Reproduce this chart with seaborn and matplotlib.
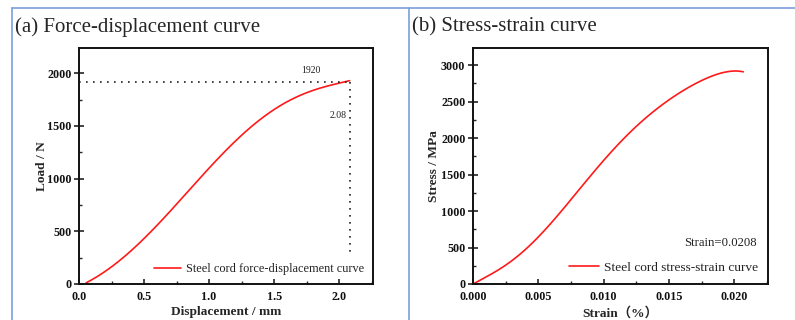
import numpy as np
import pandas as pd
import matplotlib
matplotlib.use("Agg")
import matplotlib.pyplot as plt
import seaborn as sns
from matplotlib.lines import Line2D
from matplotlib.ticker import MultipleLocator, FormatStrFormatter

# ---- data ----
disp_mm = [0.05, 0.23, 0.43, 0.585, 0.74, 0.867, 0.995, 1.12, 1.25, 1.38, 1.51, 1.64, 1.76, 1.89, 2.0, 2.08]
load_n = [0, 164, 354, 512, 733, 923, 1113, 1271, 1414, 1540, 1651, 1746, 1824, 1888, 1912, 1920]
strain = [0.0, 0.00232, 0.00488, 0.0064, 0.00794, 0.00998, 0.01126, 0.01253, 0.0138, 0.01508,
          0.01636, 0.01763, 0.0189, 0.01993, 0.0204, 0.0207]
stress_mpa = [0, 229, 641, 916, 1237, 1694, 1946, 2175, 2358, 2521, 2681, 2805, 2887, 2918, 2915, 2910]
peak_disp = 2.08
peak_load = 1920
strain_note = "Strain=0.0208"

sns.set_theme(style="ticks")
plt.rcParams["font.family"] = ["Liberation Serif", "Noto Sans CJK SC", "DejaVu Sans"]

fig = plt.figure(figsize=(7.95, 3.2), dpi=100)
fig.patch.set_facecolor("white")

ax1 = fig.add_axes([0.0994, 0.1125, 0.3698, 0.7375])
ax2 = fig.add_axes([0.595, 0.1125, 0.371, 0.7375])


def smooth(x, y, deg, n=300):
    """Least-squares polynomial smoothing of the read points (for a clean line)."""
    x = np.asarray(x, float)
    y = np.asarray(y, float)
    sx = (x - x.min()) / (x.max() - x.min())
    coef = np.polyfit(sx, y, deg)
    xs = np.linspace(0, 1, n)
    ys = np.polyval(coef, xs)
    ys[0] = y[0]
    return pd.DataFrame({"x": x.min() + xs * (x.max() - x.min()), "y": ys})


s1 = smooth(disp_mm, load_n, 5)
s2 = smooth(strain, stress_mpa, 6)

red = "#ff1a1a"
sns.lineplot(data=s1, x="x", y="y", ax=ax1, color=red, linewidth=1.2,
             label="Steel cord force-displacement curve", sort=False)
sns.lineplot(data=s2, x="x", y="y", ax=ax2, color=red, linewidth=1.2,
             label="Steel cord stress-strain curve", sort=False)

# dotted guide lines
dot = (0, (1, 3.2))
ax1.plot([0, peak_disp], [peak_load, peak_load], linestyle=dot, color="#222222", linewidth=1.2)
ax1.plot([peak_disp, peak_disp], [peak_load, 275], linestyle=dot, color="#222222", linewidth=1.2)
ax1.text(1.78, 1985, str(peak_load), fontsize=7, ha="center", va="bottom", color="#222222")
ax1.text(2.06, 1600, f"{peak_disp:.2f}", fontsize=7, ha="right", va="center", color="#222222")

ax2.text(0.963, 0.175, strain_note, transform=ax2.transAxes, fontsize=9.2, ha="right", va="center",
         color="#222222")

ax1.set_xlim(0, 2.26)
ax1.set_ylim(0, 2240)
ax2.set_xlim(0, 0.02259)
ax2.set_ylim(0, 3235)

ax1.xaxis.set_major_locator(MultipleLocator(0.5))
ax1.xaxis.set_minor_locator(MultipleLocator(0.25))
ax1.yaxis.set_major_locator(MultipleLocator(500))
ax1.yaxis.set_minor_locator(MultipleLocator(250))
ax2.xaxis.set_major_locator(MultipleLocator(0.005))
ax2.xaxis.set_minor_locator(MultipleLocator(0.0025))
ax2.yaxis.set_major_locator(MultipleLocator(500))
ax2.yaxis.set_minor_locator(MultipleLocator(250))

ax1.xaxis.set_major_formatter(FormatStrFormatter("%.1f"))
ax2.xaxis.set_major_formatter(FormatStrFormatter("%.3f"))

legend_sizes = {ax1: 8.8, ax2: 9.6}
for ax in (ax1, ax2):
    for sp in ax.spines.values():
        sp.set_visible(True)
        sp.set_linewidth(1.4)
        sp.set_color("#111111")
    ax.tick_params(axis="x", which="major", direction="in", length=3.5, width=1.1,
                   labelsize=8.7, pad=5, colors="#111111")
    ax.tick_params(axis="y", which="major", direction="inout", length=7, width=1.1,
                   labelsize=8.7, pad=2, colors="#111111")
    ax.tick_params(axis="both", which="minor", direction="in", length=2.2, width=1.0)
    for lab in ax.get_xticklabels() + ax.get_yticklabels():
        lab.set_fontweight("bold")
    leg = ax.legend(loc="lower right", frameon=False, fontsize=legend_sizes[ax], handlelength=2.2,
                    borderaxespad=0.35, handletextpad=0.4)
    for t in leg.get_texts():
        t.set_color("#222222")

ax1.set_xlabel("Displacement / mm", fontsize=9.6, fontweight="bold", labelpad=2.5)
ax1.set_ylabel("Load / N", fontsize=9.6, fontweight="bold", labelpad=-0.5)
ax2.set_xlabel("Strain（%）", fontsize=9.6, fontweight="bold", labelpad=2.5)
ax2.set_ylabel("Stress / MPa", fontsize=9.6, fontweight="bold", labelpad=0.5)

# panel titles
fig.text(15 / 795, 1 - 27 / 320, "(a) Force-displacement curve", fontsize=15, va="center", ha="left")
fig.text(412 / 795, 1 - 27 / 320, "(b) Stress-strain curve", fontsize=15, va="center", ha="left")

# blue panel border lines
blue = "#7a9fda"
fig.add_artist(Line2D([12 / 795, 1], [1 - 8 / 320, 1 - 8 / 320], color=blue, linewidth=1.2,
                      transform=fig.transFigure))
fig.add_artist(Line2D([12 / 795, 12 / 795], [0, 1 - 8 / 320], color=blue, linewidth=1.2,
                      transform=fig.transFigure))
fig.add_artist(Line2D([409 / 795, 409 / 795], [0, 1 - 8 / 320], color=blue, linewidth=1.2,
                      transform=fig.transFigure))

fig.savefig("out.png", dpi=100)
